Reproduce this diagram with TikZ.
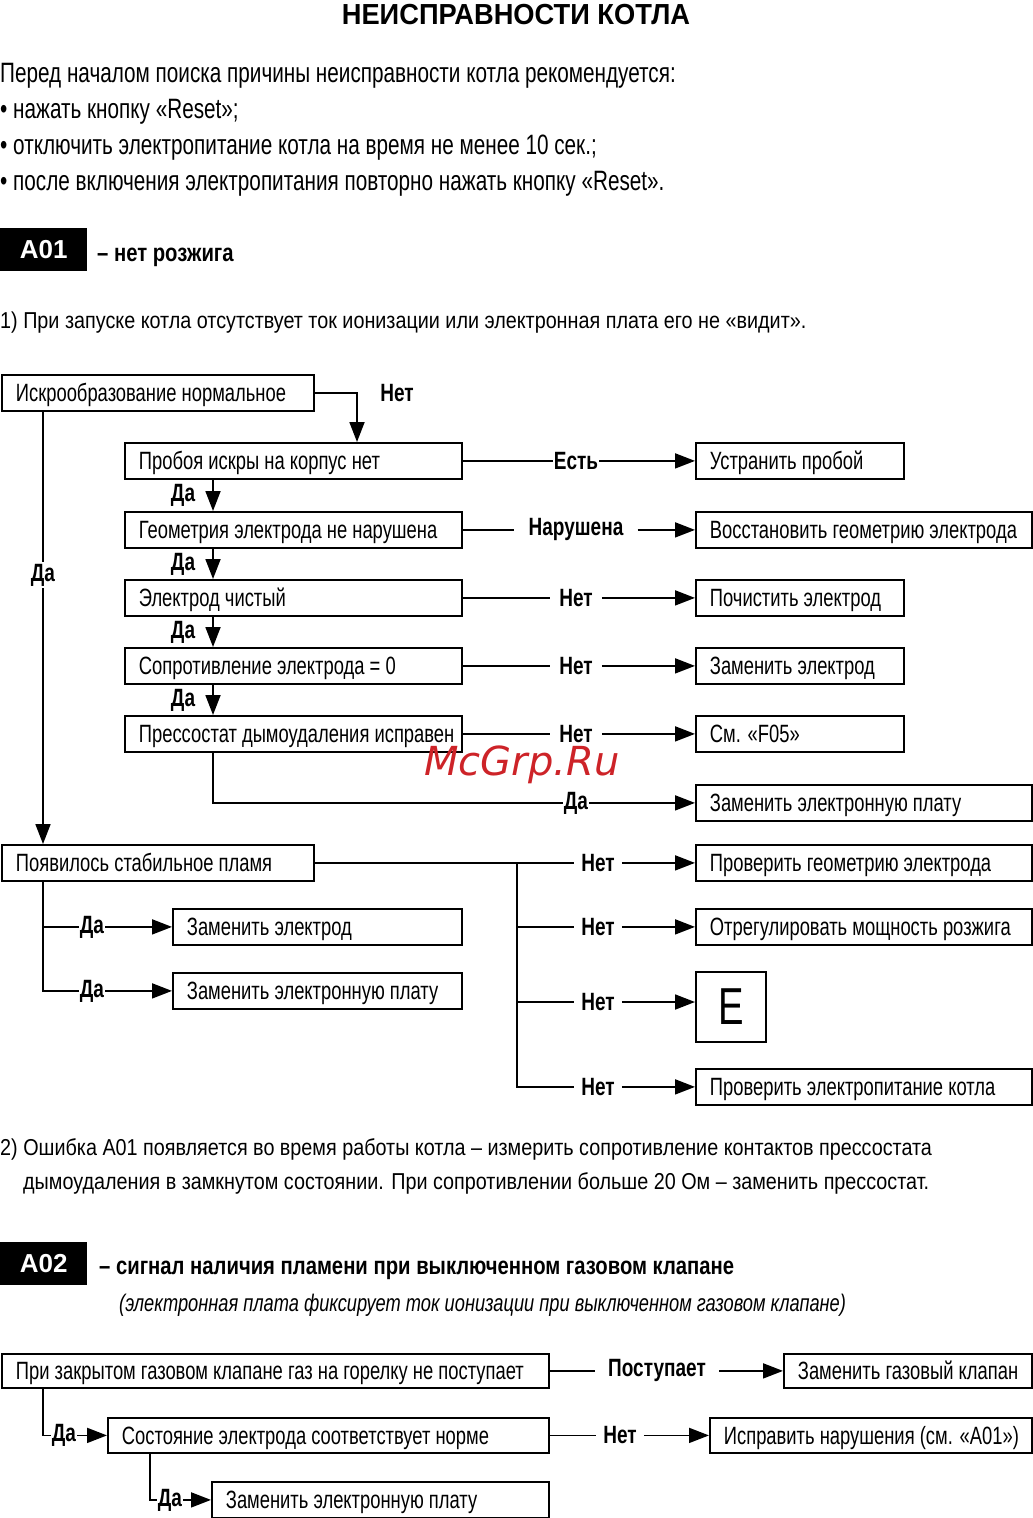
\documentclass[tikz,border=0pt]{standalone}
\usepackage{fontspec}
\setmainfont{Liberation Sans}
\newfontfamily\ttlfont{Liberation Sans}[FakeStretch=0.94]
\newfontfamily\introfont{Liberation Sans}[FakeStretch=0.74]
\newfontfamily\notefont{Liberation Sans}[FakeStretch=0.86]
\newfontfamily\headfont{Liberation Sans}[FakeStretch=0.81]
\newfontfamily\slantfont{Liberation Sans}[FakeStretch=0.76]
\newfontfamily\boxfont{Liberation Sans}[FakeStretch=0.735]
\newfontfamily\lblfont{Liberation Sans}[FakeStretch=0.76]
\newfontfamily\markfont{DejaVu Sans}
\usetikzlibrary{arrows.meta}
\definecolor{wmred}{RGB}{205,35,40}

\begin{document}
\begin{tikzpicture}[x=1pt,y=-1pt,
    box/.style={draw,line width=1.8pt,anchor=north west,inner xsep=14pt,inner ysep=0pt,
      text height=22pt,text depth=4pt,font=\boxfont\fontsize{25}{28}\selectfont},
    lbl/.style={font=\lblfont\bfseries\fontsize{25}{28}\selectfont,inner xsep=8pt,inner ysep=2pt},
    conn/.style={line width=1.8pt},
    arr/.style={conn,-{Triangle[length=20pt,width=15pt]}},
    badge/.style={fill=black,text=white,anchor=north west,inner sep=0pt,minimum width=87pt,
      minimum height=43pt,font=\bfseries\fontsize{26}{28}\selectfont},
    intro/.style={anchor=base west,inner sep=0pt,font=\introfont\fontsize{28}{32}\selectfont},
    plain/.style={anchor=base west,inner sep=0pt,font=\notefont\fontsize{23}{27}\selectfont},
    head/.style={anchor=base west,inner sep=0pt,font=\headfont\bfseries\fontsize{25}{28}\selectfont}]
  \def\flowbox#1#2#3#4#5#6{%
    \pgfmathsetmacro\bw{#4-#2-28}%
    \pgfmathsetmacro\bh{#5-#3}%
    \node[box,minimum height=\bh pt] (#1) at (#2,#3) {\makebox[\bw pt][l]{#6}};%
  }
\useasboundingbox (0,0) rectangle (1033,1518);

% heading and notes
\node[anchor=base,inner sep=0pt,font=\ttlfont\bfseries\fontsize{29}{32}\selectfont] (ttl) at (516,24) {НЕИСПРАВНОСТИ КОТЛА};
\foreach \t/\y [count=\i] in {{Перед началом поиска причины неисправности котла рекомендуется:}/82,
    {• нажать кнопку «Reset»;}/118,
    {• отключить электропитание котла на время не менее 10 сек.;}/154,
    {• после включения электропитания повторно нажать кнопку «Reset».}/190}
  \node[intro] (i\i) at (0,\y) {\t};

% A01
\node[badge] (a01) at (0,228) {A01};
\node[head] (h01) at (97,261) {– нет розжига};
\node[plain] (t1) at (0,328) {1) При запуске котла отсутствует ток ионизации или электронная плата его не «видит».};

\flowbox{b1}{1}{374}{313}{410}{Искрообразование нормальное}
\flowbox{b2}{124}{442}{461}{478}{Пробоя искры на корпус нет}
\flowbox{b3}{124}{511}{461}{547}{Геометрия электрода не нарушена}
\flowbox{b4}{124}{579}{461}{615}{Электрод чистый}
\flowbox{b5}{124}{647}{461}{683}{Сопротивление электрода = 0}
\flowbox{b6}{124}{715}{461}{751}{Прессостат дымоудаления исправен}
\flowbox{r1}{695}{442}{903}{478}{Устранить пробой}
\flowbox{r2}{695}{511}{1031}{547}{Восстановить геометрию электрода}
\flowbox{r3}{695}{579}{903}{615}{Почистить электрод}
\flowbox{r4}{695}{647}{903}{683}{Заменить электрод}
\flowbox{r5}{695}{715}{903}{751}{См. «F05»}
\flowbox{r6}{695}{784}{1031}{820}{Заменить электронную плату}
\flowbox{b7}{1}{844}{313}{880}{Появилось стабильное пламя}
\flowbox{r7}{695}{844}{1031}{880}{Проверить геометрию электрода}
\flowbox{r8}{695}{908}{1031}{944}{Отрегулировать мощность розжига}
\node[draw,line width=1.8pt,anchor=north west,minimum width=70pt,minimum height=70pt,inner sep=0pt,
  font=\boxfont\fontsize{52}{56}\selectfont] (r9) at (695,971) {E};
\flowbox{r10}{695}{1068}{1031}{1104}{Проверить электропитание котла}
\flowbox{l1}{172}{908}{461}{944}{Заменить электрод}
\flowbox{l2}{172}{972}{461}{1008}{Заменить электронную плату}

\coordinate (nx) at (357,0);
\coordinate (mx) at (576,0);
\coordinate (kx) at (598,0);
\coordinate (jx) at (517,0);
\coordinate (ax) at (92,0);

\node[lbl] (n1) at (397,393) {Нет};
\draw[arr] (b1.east) -| (nx |- b2.north);

\foreach \u/\v in {b2/b3,b3/b4,b4/b5,b5/b6}
  \draw[arr] ([xshift=89pt]\u.south west) -- ([xshift=89pt]\v.north west)
    node[lbl,midway,left=9pt] (d\u) {Да};

\foreach \u/\v/\t/\s [count=\i] in {b2/r1/Есть/1pt,b3/r2/Нарушена/14pt,b4/r3/Нет/9pt,b5/r4/Нет/9pt,b6/r5/Нет/9pt}{
  \node[lbl,inner xsep=\s] (m\i) at (\u.east -| mx) {\t};
  \draw[conn] (\u.east) -- (m\i);
  \draw[arr] (m\i) -- (\v.west);
}
\node[lbl,inner xsep=1pt] (m6) at (r6.west -| mx) {Да};
\draw[conn] ([xshift=89pt]b6.south west) |- (m6);
\draw[arr] (m6) -- (r6.west);

\node[lbl] (dl) at (43,575) {Да};
\draw[conn] ([xshift=42pt]b1.south west) -- (dl);
\draw[arr] (dl) -- ([xshift=42pt]b7.north west);

% flame branch
\coordinate (j) at (b7.east -| jx);
\foreach \v in {7,8,10}{
  \node[lbl,inner xsep=7pt] (n\v) at (r\v.west -| kx) {Нет};
  \draw[arr] (n\v) -- (r\v.west);
}
\node[lbl,inner xsep=7pt] (n9) at (598,1002) {Нет};
\draw[arr] (n9) -- (n9 -| r9.west);
\draw[conn] (b7.east) -- (n7);
\draw[conn] (j) |- (n10);
\draw[conn] (j |- n8) -- (n8);
\draw[conn] (j |- n9) -- (n9);

\coordinate (s7) at ([xshift=42pt]b7.south west);
\node[lbl,inner xsep=1pt] (dl1) at (l1.west -| ax) {Да};
\node[lbl,inner xsep=1pt] (dl2) at (l2.west -| ax) {Да};
\draw[conn] (s7) |- (dl2);
\draw[conn] (s7 |- dl1) -- (dl1);
\draw[arr] (dl1) -- (l1.west);
\draw[arr] (dl2) -- (l2.west);

\node[plain] (t2a) at (0,1155) {2) Ошибка A01 появляется во время работы котла – измерить сопротивление контактов прессостата};
\node[plain] (t2b) at (23,1189) {дымоудаления в замкнутом состоянии. При сопротивлении больше 20 Ом – заменить прессостат.};

% A02
\node[badge] (a02) at (0,1242) {A02};
\node[head] (h02) at (99,1274) {– сигнал наличия пламени при выключенном газовом клапане};
\node[anchor=base west,inner sep=0pt,font=\slantfont\itshape\fontsize{24}{28}\selectfont] (h02s) at (119,1311)
  {(электронная плата фиксирует ток ионизации при выключенном газовом клапане)};

\flowbox{c1}{1}{1353}{548}{1387}{При закрытом газовом клапане газ на горелку не поступает}
\flowbox{d1}{783}{1353}{1031}{1387}{Заменить газовый клапан}
\flowbox{c2}{107}{1417}{548}{1452}{Состояние электрода соответствует норме}
\flowbox{d2}{709}{1417}{1031}{1452}{Исправить нарушения (см. «A01»)}
\flowbox{c3}{211}{1481}{548}{1517}{Заменить электронную плату}

\coordinate (px) at (657,0);
\coordinate (qx) at (620,0);
\coordinate (ex) at (64,0);
\coordinate (fx) at (170,0);
\node[lbl,inner xsep=13pt] (p1) at (c1.east -| px) {Поступает};
\draw[conn] (c1.east) -- (p1);
\draw[arr] (p1) -- (d1.west);
\node[lbl,inner xsep=7pt] (p2) at (c2.east -| qx) {Нет};
\draw[conn] (c2.east) -- (p2);
\draw[arr] (p2) -- (d2.west);

\coordinate (s1) at ([xshift=42pt]c1.south west);
\coordinate (s2) at ([xshift=43pt]c2.south west);
\node[lbl,inner xsep=1pt] (q1) at (c2.west -| ex) {Да};
\node[lbl,inner xsep=1pt] (q2) at (c3.west -| fx) {Да};
\draw[conn] (s1) |- (q1);
\draw[arr] (q1) -- (c2.west);
\draw[conn] (s2) |- (q2);
\draw[arr] (q2) -- (c3.west);

\node[font=\markfont\itshape\fontsize{40}{42}\selectfont,text=wmred,inner sep=0pt] (wm) at (522,765) {McGrp.Ru};
\end{tikzpicture}
\end{document}
